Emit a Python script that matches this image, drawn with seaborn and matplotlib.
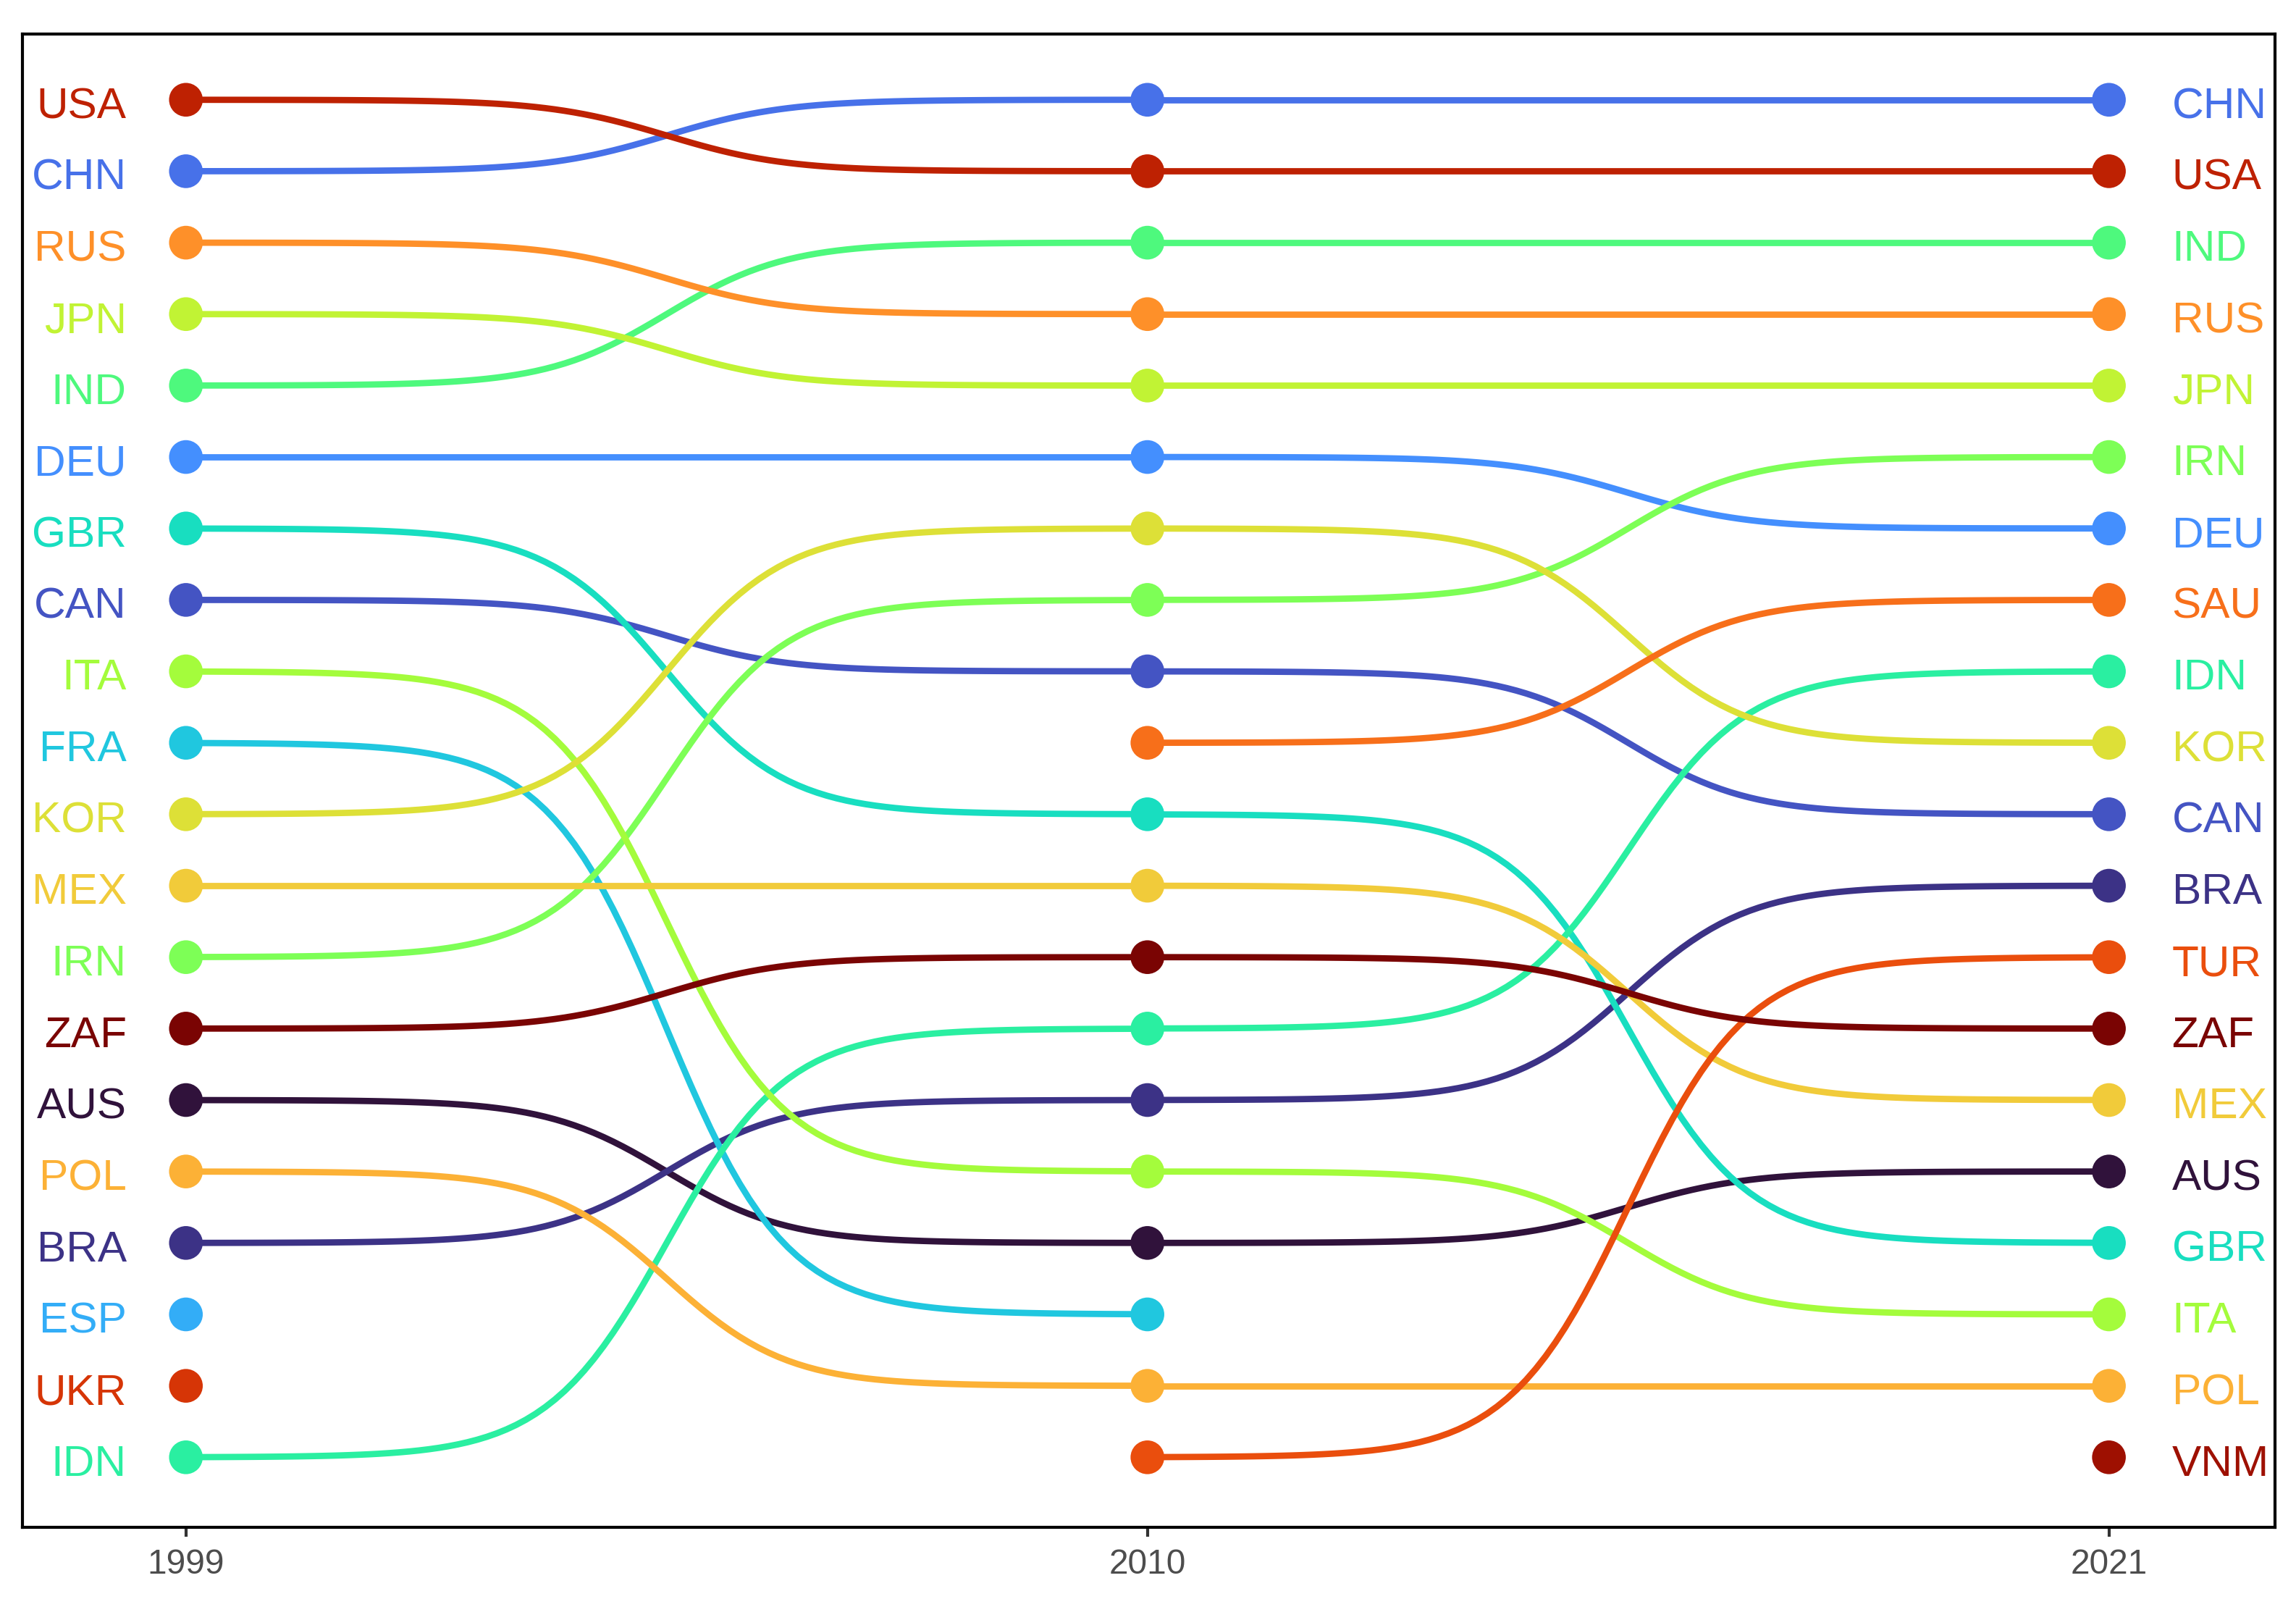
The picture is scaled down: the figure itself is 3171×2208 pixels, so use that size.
import numpy as np
import pandas as pd
import matplotlib
matplotlib.use("Agg")
import matplotlib.pyplot as plt
import seaborn as sns

# ---- data: countries ordered by rank (1 = top) in each year ----
years = [1999, 2010, 2021]
rank_1999 = ["USA", "CHN", "RUS", "JPN", "IND", "DEU", "GBR", "CAN", "ITA", "FRA",
             "KOR", "MEX", "IRN", "ZAF", "AUS", "POL", "BRA", "ESP", "UKR", "IDN"]
rank_2010 = ["CHN", "USA", "IND", "RUS", "JPN", "DEU", "KOR", "IRN", "CAN", "SAU",
             "GBR", "MEX", "ZAF", "IDN", "BRA", "ITA", "AUS", "FRA", "POL", "TUR"]
rank_2021 = ["CHN", "USA", "IND", "RUS", "JPN", "IRN", "DEU", "SAU", "IDN", "KOR",
             "CAN", "BRA", "TUR", "ZAF", "MEX", "AUS", "GBR", "ITA", "POL", "VNM"]

rows = []
for yr, lst in zip(years, [rank_1999, rank_2010, rank_2021]):
    for r, c in enumerate(lst, start=1):
        rows.append({"year": yr, "country": c, "rank": r})
df = pd.DataFrame(rows)

countries = sorted(df["country"].unique())
cmap = plt.get_cmap("turbo")
palette = {c: cmap(i / (len(countries) - 1)) for i, c in enumerate(countries)}

# ---- sigmoid (bump) curves between consecutive years ----
smooth, n = 8, 100
curve_rows = []
seg = 0
for c, g in df.sort_values("year").groupby("country"):
    g = g.reset_index(drop=True)
    for i in range(len(g) - 1):
        x0, x1 = g.loc[i, "year"], g.loc[i + 1, "year"]
        if years.index(x1) - years.index(x0) != 1:
            continue
        y0, y1 = g.loc[i, "rank"], g.loc[i + 1, "rank"]
        t = np.linspace(-smooth, smooth, n)
        s = np.exp(t) / (np.exp(t) + 1)
        xs = (t + smooth) / (2 * smooth) * (x1 - x0) + x0
        ys = s * (y1 - y0) + y0
        for xx, yy in zip(xs, ys):
            curve_rows.append({"x": xx, "y": yy, "country": c, "seg": seg})
        seg += 1
curves = pd.DataFrame(curve_rows)

# ---- figure ----
sns.set_theme(style="white")
plt.rcParams["font.family"] = ["Liberation Sans", "DejaVu Sans"]

fig = plt.figure(figsize=(3171 / 300, 2208 / 300), dpi=300)
ax = fig.add_axes([31 / 3171, 1 - 2109 / 2208, (3142 - 31) / 3171, (2109 - 47) / 2208])

sns.lineplot(data=curves, x="x", y="y", hue="country", units="seg", estimator=None,
             palette=palette, sort=False, linewidth=2.1, legend=False, ax=ax)
sns.scatterplot(data=df, x="year", y="rank", hue="country", palette=palette,
                s=125, linewidth=0, legend=False, ax=ax, zorder=3)

for c, r in zip(rank_1999, range(1, 21)):
    ax.text(1999 - 0.68, r + 0.1, c, ha="right", va="center", fontsize=14.5, color=palette[c])
for c, r in zip(rank_2021, range(1, 21)):
    ax.text(2021 + 0.72, r + 0.1, c, ha="left", va="center", fontsize=14.5, color=palette[c])

ax.set_xlim(1997.13, 2022.9)
ax.set_ylim(20.98, 0.08)
ax.set_xticks(years)
ax.set_xticklabels([str(y) for y in years])
ax.set_yticks([])
ax.set_xlabel("")
ax.set_ylabel("")
ax.tick_params(axis="x", length=3, width=1, color="#333333", labelsize=11.5,
               labelcolor="#4D4D4D", bottom=True, pad=4)
for sp in ax.spines.values():
    sp.set_visible(True)
    sp.set_color("black")
    sp.set_linewidth(1.0)

fig.savefig("out.png", dpi=300, facecolor="white")
